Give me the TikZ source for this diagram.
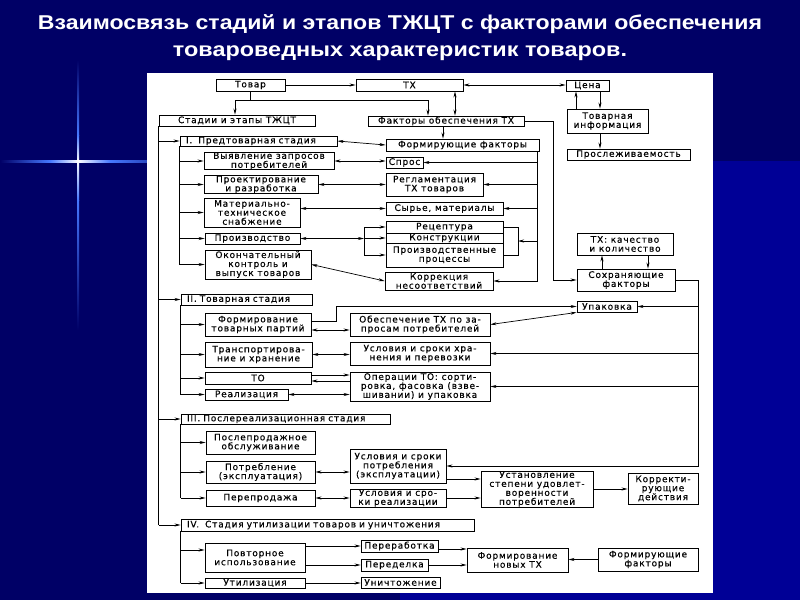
\documentclass[tikz,border=0pt]{standalone}
\usepackage{fontspec}
\usepackage{graphicx}
\usetikzlibrary{arrows.meta,calc}
\newfontfamily\dfont[LetterSpace=9,FakeBold=0.3]{DejaVu Sans}
\newfontfamily\tfont{Liberation Sans}
\definecolor{bgdark}{RGB}{0,0,102}
\definecolor{bglight}{RGB}{0,0,150}
\definecolor{starblue}{RGB}{70,120,255}
\tikzset{
  box/.style={draw=black, line width=0.9pt, fill=white, inner sep=0pt, align=center,
    font=\dfont\fontsize{9}{9}\selectfont},
  conn/.style={draw=black, line width=0.7pt},
  arr/.style={conn, -{Stealth[length=6pt,width=3pt]}},
  darr/.style={conn, {Stealth[length=6pt,width=3pt]}-{Stealth[length=6pt,width=3pt]}},
}
\newcommand\bx[6]{\node[box,minimum width={(#4-#2)*1pt},minimum height={(#5-#3)*1pt}] (#1) at ({(#2+#4)/2},{(#3+#5)/2}) {#6};}
\newcommand\lbx[6]{\node[box,minimum width={(#4-#2)*1pt},minimum height={(#5-#3)*1pt},text width={(#4-#2-12)*1pt},align=left] (#1) at ({(#2+#4)/2},{(#3+#5)/2}) {#6};}
\begin{document}
\begin{tikzpicture}[x=1pt,y=-1pt]
\useasboundingbox (0,0) rectangle (800,600);
% background
\fill[bgdark] (0,0) rectangle (800,600);
\fill[bglight] (400,161) rectangle (800,600);
% star
\shade[left color=bgdark, right color=starblue] (0,160) rectangle (50,162);
\shade[left color=starblue, right color=white] (50,160) rectangle (78,162);
\shade[left color=white, right color=starblue] (78,160) rectangle (110,162);
\shade[left color=starblue, right color=starblue!60!bgdark] (110,160) rectangle (147,162);
\shade[top color=bgdark, bottom color=starblue] (77,60) rectangle (79,135);
\shade[top color=starblue, bottom color=white] (77,135) rectangle (79,161);
\shade[top color=white, bottom color=starblue] (77,161) rectangle (79,200);
\shade[top color=starblue, bottom color=bgdark] (77,200) rectangle (79,330);
\fill[white] (78,161) circle (1.6);
% title
\node[anchor=base, text=white, inner sep=0pt, font=\tfont\bfseries\fontsize{20}{24}\selectfont] (t1) at (400,29.5)
  {\resizebox{724pt}{\height}{Взаимосвязь стадий и этапов ТЖЦТ с факторами обеспечения}};
\node[anchor=base, text=white, inner sep=0pt, font=\tfont\bfseries\fontsize{20}{24}\selectfont] (t2) at (400,56.5)
  {\resizebox{454pt}{\height}{товароведных характеристик товаров.}};
% panel
\fill[white] (147,73) rectangle (713,593);
% boxes
\bx{tovar}{216}{79}{285}{91}{Товар}
\bx{tx}{356}{79}{463}{91}{ТХ}
\bx{cena}{566}{80}{609}{91}{Цена}
\bx{tinfo}{567}{109}{648}{133}{Товарная\\информация}
\bx{prosl}{567}{149}{690}{160}{Прослеживаемость}
\bx{stad}{159}{115}{315}{126}{Стадии и этапы ТЖЦТ}
\bx{fakt}{368}{116}{524}{126}{Факторы обеспечения ТХ}
\lbx{s1}{180}{136}{337}{146}{I.\ \ Предтоварная стадия}
\bx{form}{386}{139}{539}{151}{Формирующие факторы}
\bx{vyav}{204}{153}{334}{169}{Выявление запросов\\потребителей}
\bx{spros}{386}{157}{423}{168}{Спрос}
\bx{proekt}{204}{176}{318}{193}{Проектирование\\и разработка}
\bx{regl}{386}{173}{483}{196}{Регламентация\\ТХ товаров}
\bx{mat}{204}{198}{300}{227}{Материально-\\техническое\\снабжение}
\bx{syr}{386}{202}{503}{215}{Сырье, материалы}
\bx{proizv}{205}{233}{300}{244}{Производство}
\bx{rec}{386}{221}{503}{233}{Рецептура}
\bx{konstr}{386}{233}{503}{243}{Конструкции}
\bx{pproc}{386}{243}{503}{267}{Производственные\\процессы}
\bx{okon}{205}{250}{311}{279}{Окончательный\\контроль и\\выпуск товаров}
\bx{korr}{385}{272}{493}{290}{Коррекция\\несоответствий}
\bx{txkach}{577}{233}{673}{255}{ТХ: качество\\и количество}
\bx{sohr}{577}{269}{675}{291}{Сохраняющие\\факторы}
\lbx{s2}{181}{294}{312}{305}{II. Товарная стадия}
\bx{upak}{577}{301}{637}{312}{Упаковка}
\bx{formp}{205}{313}{311}{336}{Формирование\\товарных партий}
\bx{obesp}{350}{313}{490}{336}{Обеспечение ТХ по за-\\просам потребителей}
\bx{transp}{205}{342}{312}{367}{Транспортирова-\\ние и хранение}
\bx{uslhr}{350}{342}{490}{365}{Условия и сроки хра-\\нения и перевозки}
\bx{to}{205}{372}{311}{384}{ТО}
\bx{oper}{350}{372}{490}{401}{Операции ТО: сорти-\\ровка, фасовка (взве-\\шивании) и упаковка}
\bx{real}{205}{389}{288}{400}{Реализация}
\lbx{s3}{181}{414}{390}{424}{III. Послереализационная стадия}
\bx{posle}{206}{431}{315}{454}{Послепродажное\\обслуживание}
\bx{potr}{206}{461}{315}{483}{Потребление\\(эксплуатация)}
\bx{pereprod}{206}{490}{315}{506}{Перепродажа}
\bx{uslpotr}{350}{449}{446}{483}{Условия и сроки\\потребления\\(эксплуатации)}
\bx{uslreal}{350}{489}{446}{507}{Условия и сро-\\ки реализации}
\bx{ustan}{481}{471}{593}{507}{Установление\\степени удовлет-\\воренности\\потребителей}
\bx{korrd}{628}{473}{698}{504}{Корректи-\\рующие\\действия}
\lbx{s4}{181}{519}{474}{531}{IV.\ \ Стадия утилизации товаров и уничтожения}
\bx{povt}{205}{543}{305}{572}{Повторное\\использование}
\bx{util}{205}{578}{305}{588}{Утилизация}
\bx{pererab}{361}{540}{438}{552}{Переработка}
\bx{peredel}{361}{559}{428}{571}{Переделка}
\bx{unich}{361}{577}{440}{588}{Уничтожение}
\bx{formnew}{467}{548}{568}{572}{Формирование\\новых ТХ}
\bx{formf}{598}{548}{698}{571}{Формирующие\\факторы}
% top connectors
\draw[arr] (tovar.east) -- (tx.west);
\draw[darr] (tx.east) -- (tx.east -| cena.west);
\draw[arr] (cena.south -| 600,0) -- (tinfo.north -| 600,0);
\draw[arr] (tinfo.north -| 576,0) -- (cena.south -| 576,0);
\draw[arr] (tinfo.south -| 600,0) -- (prosl.north -| 600,0);
\coordinate (tb) at (250,100);
\draw[conn] (tovar.south -| tb) -- (tb);
\draw[arr] (tb) -| (stad.north -| 235,0);
\draw[arr] (tb) -| (fakt.north -| 428,0);
\draw[darr] (tx.south -| 455,0) -- (fakt.north -| 455,0);
\draw[arr] (fakt.south -| 443,0) -- (form.north -| 443,0);
\coordinate (fx) at (553,0);
\draw[arr] (fakt.east) -| (fx |- sohr.west) -- (sohr.west);
% main left bus
\draw[conn] (stad.south west) -- (stad.south west |- s4.west);
\foreach \n in {s1,s2,s3,s4} \draw[arr] (stad.south west |- \n.west) -- (\n.west);
% stage I
\draw[conn] (s1.south west) -- (s1.south west |- okon.west);
\foreach \n in {vyav,proekt,mat,proizv,okon} \draw[arr] (s1.south west |- \n.west) -- (\n.west);
\draw[darr] (s1.east) -- (form.west);
\draw[darr] (vyav.east) -- (vyav.east -| spros.west);
\draw[darr] (proekt.east) -- (proekt.east -| regl.west);
\draw[darr] (mat.east |- syr.west) -- (syr.west);
\coordinate (pb) at (364,0);
\draw[darr] (proizv.east) -- (pb |- proizv.east);
\draw[conn] (pb |- rec.west) -- (pb |- pproc.west);
\foreach \n in {rec,konstr,pproc} \draw[arr] (pb |- \n.west) -- (\n.west);
\coordinate (brx) at (518,0);
\draw[conn] (rec.east) -| (brx |- pproc.east) -- (pproc.east);
\coordinate (lb) at (537,0);
\draw[arr] (lb |- form.south) |- (korr.east);
\foreach \n in {spros,regl,syr} \draw[arr] (lb |- \n.east) -- (\n.east);
\draw[arr] ([yshift=-3pt]lb |- konstr.east) -- ([yshift=-3pt]brx |- konstr.east);
\draw[darr] (okon.east) -- (korr.west);
% right side
\draw[arr] (sohr.north -| 602,0) -- (txkach.south -| 602,0);
\draw[arr] (txkach.south -| 648,0) -- (sohr.north -| 648,0);
\coordinate (rb) at (698,0);
\draw[arr] (sohr.east) -| (rb |- uslpotr.east) -- (uslpotr.east);
\foreach \n in {upak,uslhr,oper} \draw[arr] (rb |- \n.east) -- (\n.east);
% stage II
\draw[conn] (s2.south west) -- (s2.south west |- real.west);
\foreach \n in {formp,transp,to,real} \draw[arr] (s2.south west |- \n.west) -- (\n.west);
\draw[arr] ([yshift=3.5pt]formp.east) -- ++(25,0) |- (upak.west);
\draw[darr] ([yshift=-5.5pt]formp.east) -- ([yshift=-5.5pt]obesp.west);
\draw[darr] (upak.south west) -- (obesp.east);
\draw[darr] (transp.east) -- (transp.east -| uslhr.west);
\draw[arr] ([yshift=3pt]to.east) -- ([yshift=3pt]to.east -| oper.west);
\draw[arr] ([yshift=-3pt]to.east -| oper.west) -- ([yshift=-3pt]to.east);
\draw[darr] (real.east) -- (real.east -| oper.west);
% stage III
\draw[conn] (s3.south west) -- (s3.south west |- pereprod.west);
\foreach \n in {posle,potr,pereprod} \draw[arr] (s3.south west |- \n.west) -- (\n.west);
\draw[darr] (potr.east) -- (potr.east -| uslpotr.west);
\draw[darr] (pereprod.east) -- (pereprod.east -| uslreal.west);
\draw[arr] ([yshift=-13pt]uslpotr.east) -- ([yshift=-13pt]uslpotr.east -| ustan.west);
\draw[arr] (uslreal.east) -- (uslreal.east -| ustan.west);
\draw[arr] (ustan.east) -- (ustan.east -| korrd.west);
% stage IV
\draw[conn] (s4.south west) -- (s4.south west |- util.west);
\draw[arr] ([yshift=7.5pt]s4.south west |- povt.west) -- ([yshift=7.5pt]povt.west);
\draw[arr] (s4.south west |- util.west) -- (util.west);
\draw[arr] (povt.east |- pererab.west) -- (pererab.west);
\draw[arr] (povt.east |- peredel.west) -- (peredel.west);
\draw[arr] (util.east) -- (util.east -| unich.west);
\draw[arr] ([yshift=-3pt]pererab.east) -- ([yshift=-3pt]pererab.east -| formnew.west);
\draw[arr] (peredel.east) -- (peredel.east -| formnew.west);
\draw[arr] (formf.west) -- (formf.west -| formnew.east);
\end{tikzpicture}
\end{document}
